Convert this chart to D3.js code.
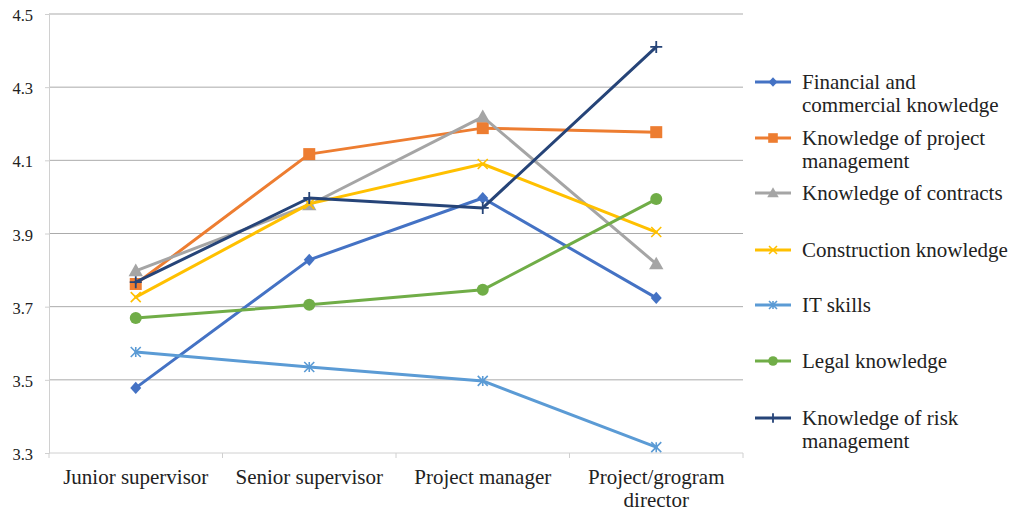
<!DOCTYPE html>
<html>
<head>
<meta charset="utf-8">
<script src="https://cdn.jsdelivr.net/npm/d3@7"></script>
<style>
  html, body { margin: 0; padding: 0; background: #fff; }
  svg { display: block; }
</style>
</head>
<body>
<svg id="chart" width="1009" height="515"></svg>
<script>
// Categories along the x axis (each label may wrap onto several lines)
const categories = ["Junior supervisor", "Senior supervisor", "Project manager", "Project/grogram director"];
const categoryLines = [["Junior supervisor"], ["Senior supervisor"], ["Project manager"], ["Project/grogram", "director"]];

// Series names, legend text lines, colours and markers
const seriesNames = [
  "Financial and commercial knowledge",
  "Knowledge of project management",
  "Knowledge of contracts",
  "Construction knowledge",
  "IT skills",
  "Legal knowledge",
  "Knowledge of risk management"
];
const legendLines = [
  ["Financial and", "commercial knowledge"],
  ["Knowledge of project", "management"],
  ["Knowledge of contracts"],
  ["Construction knowledge"],
  ["IT skills"],
  ["Legal knowledge"],
  ["Knowledge of risk", "management"]
];
const seriesColors = ["#4472C4", "#ED7D31", "#A5A5A5", "#FFC000", "#5B9BD5", "#70AD47", "#264478"];
const seriesMarkers = ["diamond", "square", "triangle", "x", "asterisk", "circle", "plus"];

// Mean scores per series, one per category
const financial    = [3.478, 3.828, 3.997, 3.724];
const projectMgmt  = [3.762, 4.117, 4.188, 4.177];
const contracts    = [3.798, 3.978, 4.219, 3.817];
const construction = [3.726, 3.981, 4.090, 3.904];
const itSkills     = [3.576, 3.535, 3.497, 3.316];
const legal        = [3.669, 3.705, 3.746, 3.994];
const riskMgmt     = [3.767, 3.997, 3.970, 4.410];
const seriesValues = [financial, projectMgmt, contracts, construction, itSkills, legal, riskMgmt];

// Y axis ticks
const yTicks = [3.3, 3.5, 3.7, 3.9, 4.1, 4.3, 4.5];

const FONT = '"Liberation Serif", "Times New Roman", Times, serif';
const LABEL_SIZE = 21;
const TICK_SIZE = 16.5;

const svg = d3.select("#chart").style("font-family", FONT);
const plot = { left: 49, right: 743, top: 14, bottom: 453 };

const x = d3.scaleBand().domain(categories).range([plot.left, plot.right]);
const y = d3.scaleLinear().domain([3.3, 4.5]).range([plot.bottom, plot.top]);

// Horizontal gridlines
svg.append("g")
  .selectAll("line")
  .data(yTicks.slice(1))
  .join("line")
  .attr("x1", plot.left).attr("x2", plot.right)
  .attr("y1", d => y(d)).attr("y2", d => y(d))
  .attr("stroke", "#ababab").attr("stroke-width", 1);

// Y axis
const yAxis = svg.append("g")
  .attr("transform", `translate(${plot.left},0)`)
  .call(d3.axisLeft(y).tickValues(yTicks).tickFormat(d3.format(".1f")).tickSize(4).tickPadding(12));
yAxis.attr("font-family", null).style("font-family", FONT);
yAxis.select(".domain").attr("stroke", "#d0d0d0");
yAxis.selectAll(".tick line").attr("stroke", "#d0d0d0");
yAxis.selectAll("text").attr("font-size", TICK_SIZE).attr("fill", "#222").attr("dy", "0.4em");

// X axis baseline and category separators
const xAxis = svg.append("g")
  .attr("transform", `translate(0,${plot.bottom})`);
xAxis.append("line")
  .attr("x1", plot.left).attr("x2", plot.right)
  .attr("stroke", "#d0d0d0").attr("stroke-width", 1);
const sepPos = categories.map(c => x(c)).concat([plot.right]);
xAxis.selectAll("line.sep")
  .data(sepPos)
  .join("line")
  .attr("class", "sep")
  .attr("x1", d => d).attr("x2", d => d)
  .attr("y1", 0).attr("y2", 5)
  .attr("stroke", "#d0d0d0");
xAxis.selectAll("text.cat")
  .data(categories)
  .join("text")
  .attr("class", "cat")
  .attr("text-anchor", "middle")
  .attr("font-size", LABEL_SIZE)
  .attr("fill", "#222")
  .attr("x", d => x(d) + x.bandwidth() / 2)
  .each(function(d, i) {
    d3.select(this).selectAll("tspan")
      .data(categoryLines[i])
      .join("tspan")
      .attr("x", x(d) + x.bandwidth() / 2)
      .attr("y", (t, j) => 31 + j * 23)
      .text(t => t);
  });

// Marker drawing
function drawMarker(g, type, color, cx, cy, s) {
  const m = g.append("g").attr("transform", `translate(${cx},${cy})`);
  const h = s / 2;
  switch (type) {
    case "diamond":
      m.append("path").attr("d", `M0,${-h * 1.1}L${h},0L0,${h * 1.1}L${-h},0Z`).attr("fill", color);
      break;
    case "square":
      m.append("rect").attr("x", -h).attr("y", -h).attr("width", s).attr("height", s).attr("fill", color);
      break;
    case "triangle":
      m.append("path").attr("d", `M0,${-s * 0.6}L${s * 0.6},${s * 0.45}L${-s * 0.6},${s * 0.45}Z`).attr("fill", color);
      break;
    case "circle":
      m.append("circle").attr("r", h).attr("fill", color);
      break;
    case "x":
      m.append("path").attr("d", `M${-h},${-h}L${h},${h}M${-h},${h}L${h},${-h}`)
        .attr("stroke", color).attr("stroke-width", 1.6).attr("fill", "none");
      break;
    case "asterisk":
      m.append("path").attr("d", `M${-h},${-h}L${h},${h}M${-h},${h}L${h},${-h}M0,${-h}L0,${h}`)
        .attr("stroke", color).attr("stroke-width", 1.6).attr("fill", "none");
      break;
    case "plus":
      m.append("path").attr("d", `M${-h},0L${h},0M0,${-h}L0,${h}`)
        .attr("stroke", color).attr("stroke-width", 1.8).attr("fill", "none");
      break;
  }
}

// Series lines and markers
const line = d3.line()
  .x((d, i) => x(categories[i]) + x.bandwidth() / 2)
  .y(d => y(d));

const markerSize = { diamond: 11, square: 12, triangle: 12, circle: 12, x: 10, asterisk: 10, plus: 12 };

seriesValues.forEach((vals, si) => {
  const g = svg.append("g");
  g.append("path")
    .datum(vals)
    .attr("d", line)
    .attr("fill", "none")
    .attr("stroke", seriesColors[si])
    .attr("stroke-width", 3)
    .attr("stroke-linejoin", "round")
    .attr("stroke-linecap", "round");
  vals.forEach((v, i) => {
    drawMarker(g, seriesMarkers[si], seriesColors[si],
      x(categories[i]) + x.bandwidth() / 2, y(v), markerSize[seriesMarkers[si]]);
  });
});

// Legend
const legendY = [82, 138, 193, 250, 305, 361, 418];
const legend = svg.append("g");
seriesNames.forEach((name, si) => {
  const ly = legendY[si];
  const g = legend.append("g");
  g.append("line")
    .attr("x1", 755).attr("x2", 791).attr("y1", ly).attr("y2", ly)
    .attr("stroke", seriesColors[si]).attr("stroke-width", 3);
  drawMarker(g, seriesMarkers[si], seriesColors[si], 773, ly, markerSize[seriesMarkers[si]] * 0.8);
  const t = g.append("text").attr("font-size", LABEL_SIZE).attr("fill", "#222");
  legendLines[si].forEach((txt, j) => {
    t.append("tspan").attr("x", 802).attr("y", ly + 7 + j * 23).text(txt);
  });
});
</script>
</body>
</html>
